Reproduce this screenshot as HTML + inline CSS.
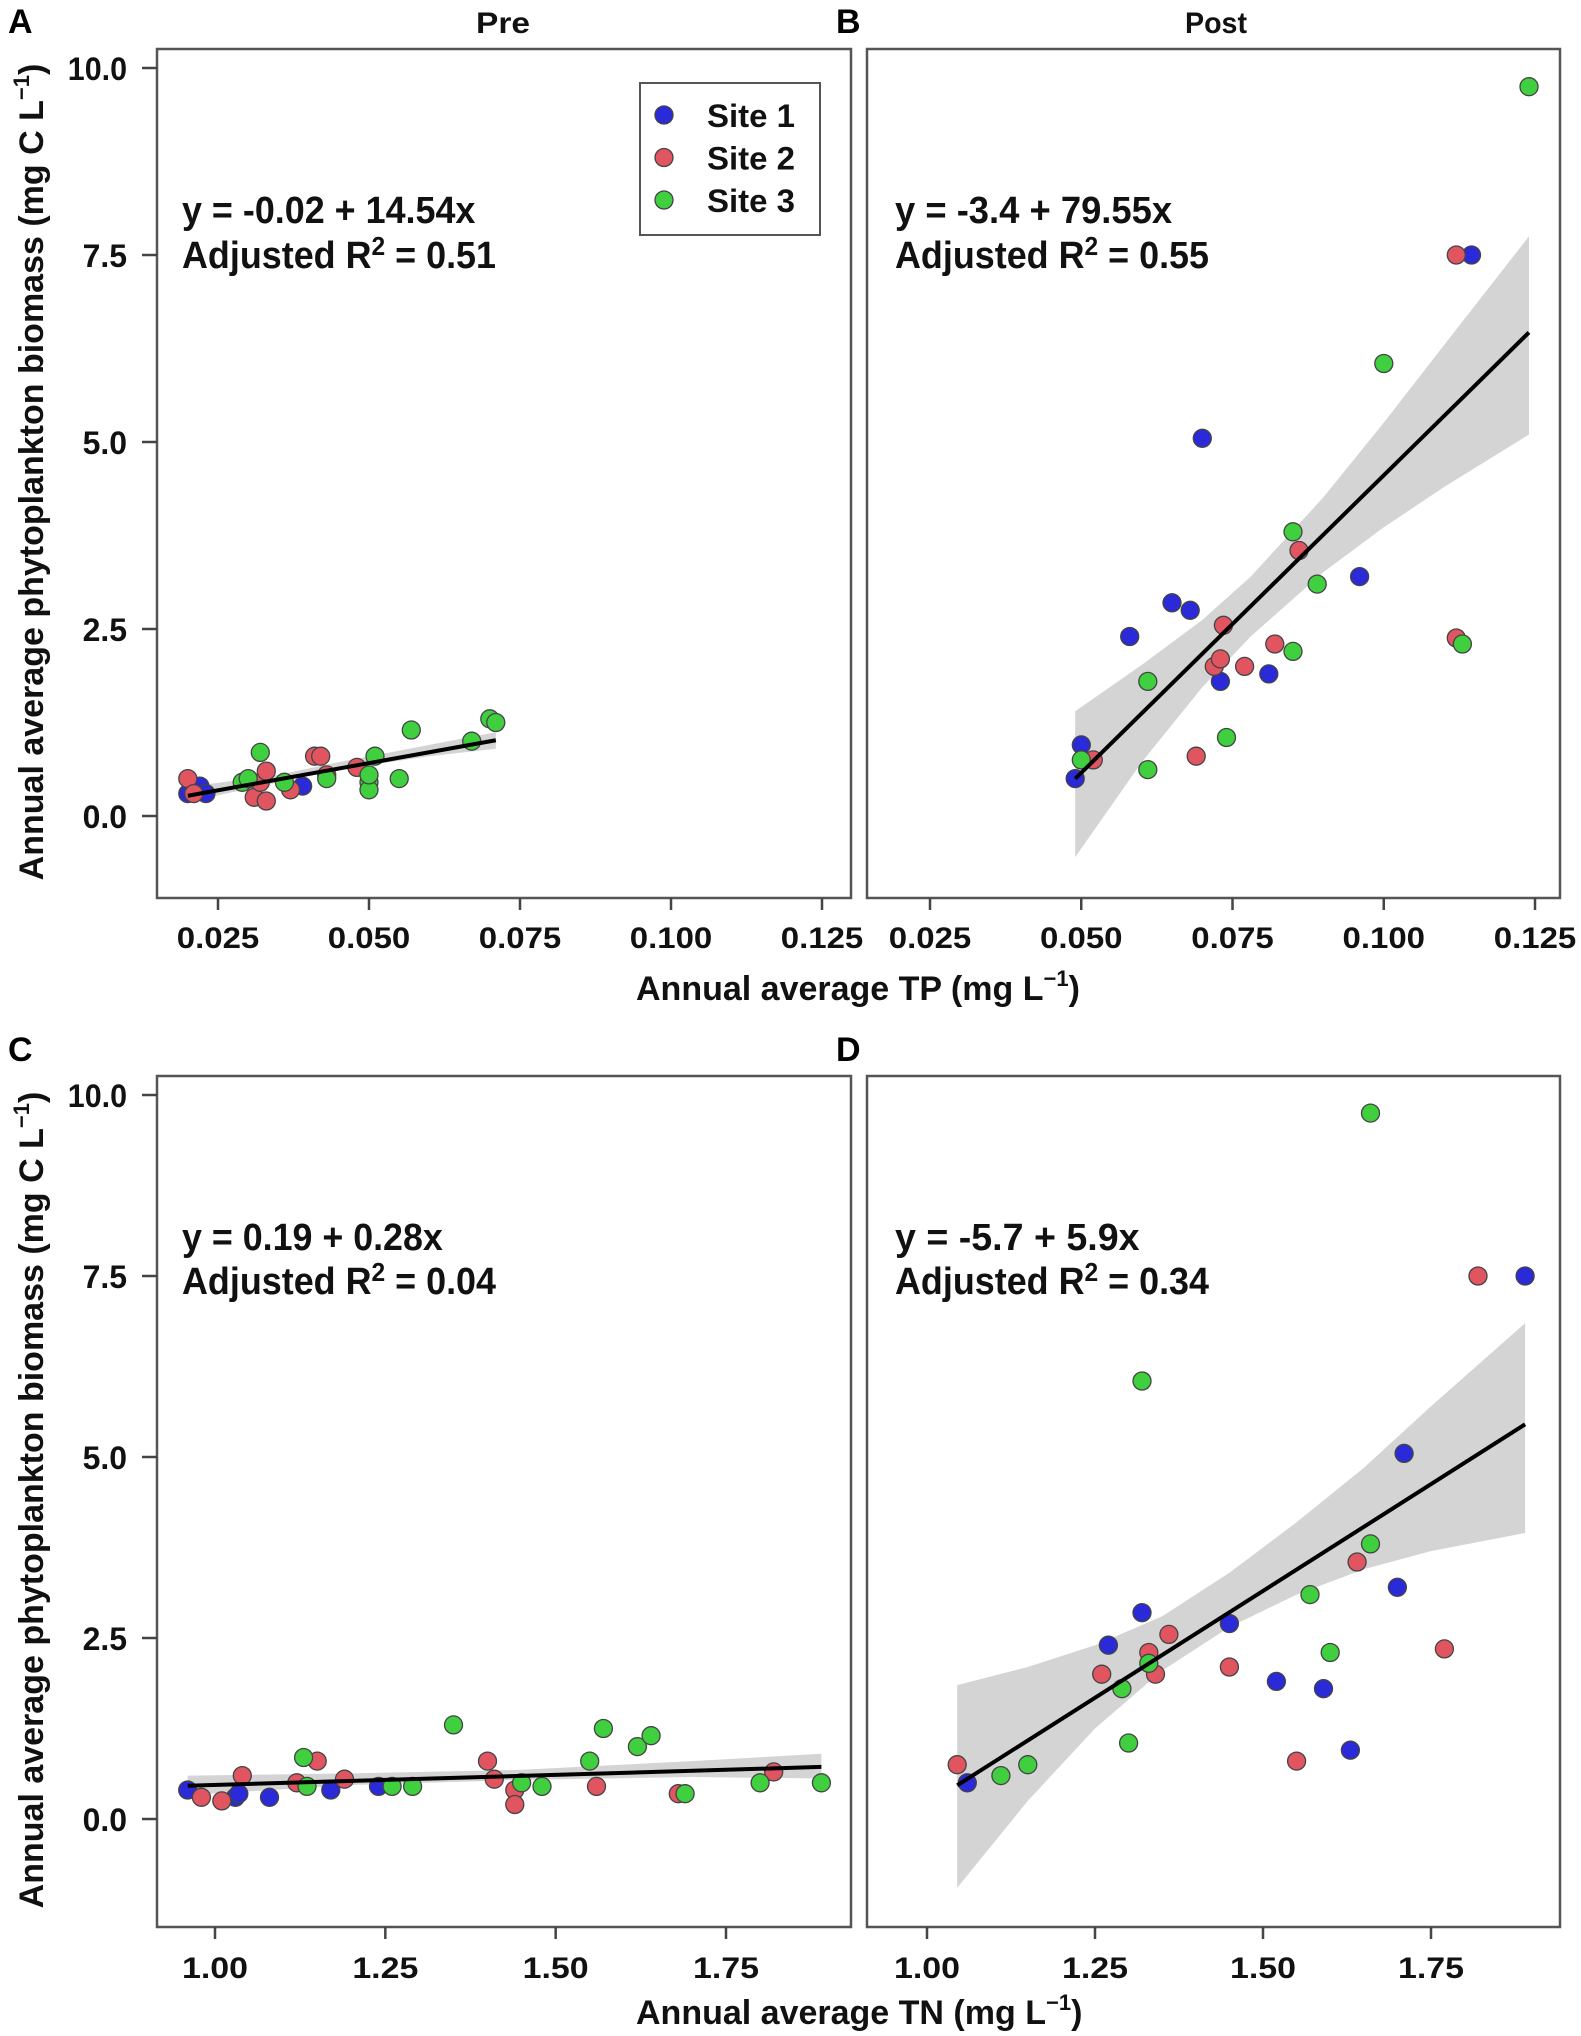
<!DOCTYPE html>
<html><head><meta charset="utf-8"><style>
html,body{margin:0;padding:0;background:#fff;}
svg{display:block;font-family:"Liberation Sans",Arial,sans-serif;font-weight:bold;}
</style></head><body>
<svg id="chart" width="1581" height="2036" viewBox="0 0 1581 2036" xmlns="http://www.w3.org/2000/svg">
<g id="layer"></g>
</svg>
<script>
// ---------- data ----------
const siteNames = ["Site 1","Site 2","Site 3"];
const siteColors = ["#2a2ad8","#e05560","#3fcf3f"];
const yTicks = [0.0, 2.5, 5.0, 7.5, 10.0];
const yTickLabels = ["0.0","2.5","5.0","7.5","10.0"];
const tpTicks = [0.025,0.050,0.075,0.100,0.125];
const tpTickLabels = ["0.025","0.050","0.075","0.100","0.125"];
const tnTicks = [1.00,1.25,1.50,1.75];
const tnTickLabels = ["1.00","1.25","1.50","1.75"];

// Panel A (Pre, TP)
const aSite = [0,0,0,0, 1,1,1,1,1,1,1,1,1,1,1, 2,2,2,2,2,2,2,2,2,2,2,2,2,2];
const aX = [0.020,0.022,0.023,0.039, 0.020,0.021,0.031,0.032,0.033,0.033,0.037,0.041,0.042,0.043,0.048, 0.029,0.030,0.032,0.036,0.043,0.050,0.050,0.050,0.051,0.055,0.057,0.067,0.070,0.071];
const aY = [0.30,0.40,0.30,0.40, 0.50,0.30,0.25,0.45,0.60,0.20,0.35,0.80,0.80,0.55,0.65, 0.45,0.50,0.85,0.45,0.50,0.45,0.35,0.55,0.80,0.50,1.15,1.00,1.30,1.25];
const aBandX = [0.020,0.035,0.045,0.060,0.071];
const aBandLo = [0.19,0.45,0.62,0.80,0.90];
const aBandHi = [0.39,0.55,0.72,0.95,1.12];
const aCoef = [-0.02, 14.54];

// Panel B (Post, TP)
const bSite = [0,0,0,0,0,0,0,0,0,0, 1,1,1,1,1,1,1,1,1,1, 2,2,2,2,2,2,2,2,2,2];
const bX = [0.049,0.050,0.058,0.065,0.068,0.070,0.073,0.081,0.096,0.1145, 0.052,0.069,0.072,0.073,0.0735,0.077,0.082,0.086,0.112,0.112, 0.050,0.061,0.061,0.074,0.085,0.085,0.089,0.100,0.113,0.124];
const bY = [0.50,0.95,2.40,2.85,2.75,5.05,1.80,1.90,3.20,7.50, 0.75,0.80,2.00,2.10,2.55,2.00,2.30,3.55,7.50,2.38, 0.75,0.62,1.80,1.05,3.80,2.20,3.10,6.05,2.30,9.75];
const bBandX = [0.049,0.060,0.070,0.078,0.090,0.100,0.110,0.124];
const bBandLo = [-0.55,0.72,1.72,2.40,3.26,3.86,4.40,5.10];
const bBandHi = [1.40,2.02,2.62,3.20,4.26,5.26,6.30,7.75];
const bCoef = [-3.4, 79.55];

// Panel C (Pre, TN)
const cSite = [0,0,0,0,0,0, 1,1,1,1,1,1,1,1,1,1,1,1,1, 2,2,2,2,2,2,2,2,2,2,2,2,2,2];
const cX = [0.96,1.03,1.035,1.08,1.17,1.24, 0.98,1.01,1.04,1.12,1.15,1.19,1.40,1.41,1.44,1.44,1.56,1.68,1.82, 1.13,1.135,1.26,1.29,1.35,1.45,1.48,1.55,1.57,1.62,1.64,1.69,1.80,1.89];
const cY = [0.40,0.30,0.35,0.30,0.40,0.45, 0.30,0.25,0.60,0.50,0.80,0.55,0.80,0.55,0.40,0.20,0.45,0.35,0.65, 0.85,0.45,0.45,0.45,1.30,0.50,0.45,0.80,1.25,1.00,1.15,0.35,0.50,0.50];
const cBandX = [0.96,1.20,1.45,1.70,1.89];
const cBandLo = [0.33,0.47,0.54,0.58,0.56];
const cBandHi = [0.60,0.63,0.68,0.80,0.90];
const cCoef = [0.19, 0.28];

// Panel D (Post, TN)
const dSite = [0,0,0,0,0,0,0,0,0,0, 1,1,1,1,1,1,1,1,1,1, 2,2,2,2,2,2,2,2,2,2];
const dX = [1.06,1.27,1.32,1.45,1.52,1.59,1.63,1.70,1.71,1.89, 1.045,1.26,1.33,1.34,1.36,1.45,1.55,1.64,1.77,1.82, 1.11,1.15,1.29,1.30,1.32,1.33,1.57,1.60,1.66,1.66];
const dY = [0.50,2.40,2.85,2.70,1.90,1.80,0.95,3.20,5.05,7.50, 0.75,2.00,2.30,2.00,2.55,2.10,0.80,3.55,2.35,7.50, 0.60,0.75,1.80,1.05,6.05,2.15,3.10,2.30,3.80,9.75];
const dBandX = [1.045,1.15,1.25,1.35,1.45,1.55,1.65,1.75,1.89];
const dBandLo = [-0.95,0.25,1.25,2.05,2.65,3.10,3.45,3.70,3.95];
const dBandHi = [1.85,2.10,2.40,2.80,3.40,4.10,4.85,5.70,6.85];
const dCoef = [-5.7, 5.9];

// ---------- drawing ----------
const NS = "http://www.w3.org/2000/svg";
const layer = document.getElementById("layer");
function mk(tag, attrs, parent){
  const e = document.createElementNS(NS, tag);
  for (const k in attrs) e.setAttribute(k, attrs[k]);
  (parent||layer).appendChild(e);
  return e;
}

const panels = [
  {id:"a", box:[157,49,851,898], x0:0.025, px0:218, x1:0.125, px1:822, y0:816, yPer:74.8,
   site:aSite, xs:aX, ys:aY, bx:aBandX, blo:aBandLo, bhi:aBandHi, coef:aCoef,
   ticks:tpTicks, tickLabels:tpTickLabels, tlY:948, eq:["y = -0.02 + 14.54x","0.51"], eqX:182, eqY:[223,268], leftAxis:true},
  {id:"b", box:[867,49,1560,898], x0:0.025, px0:930, x1:0.125, px1:1535, y0:816, yPer:74.8,
   site:bSite, xs:bX, ys:bY, bx:bBandX, blo:bBandLo, bhi:bBandHi, coef:bCoef,
   ticks:tpTicks, tickLabels:tpTickLabels, tlY:948, eq:["y = -3.4 + 79.55x","0.55"], eqX:895, eqY:[223,268], leftAxis:false},
  {id:"c", box:[157,1076,851,1927], x0:1.00, px0:215, x1:1.75, px1:726, y0:1819, yPer:72.4,
   site:cSite, xs:cX, ys:cY, bx:cBandX, blo:cBandLo, bhi:cBandHi, coef:cCoef,
   ticks:tnTicks, tickLabels:tnTickLabels, tlY:1978, eq:["y = 0.19 + 0.28x","0.04"], eqX:182, eqY:[1250,1294], leftAxis:true},
  {id:"d", box:[867,1076,1560,1927], x0:1.00, px0:927, x1:1.75, px1:1431, y0:1819, yPer:72.4,
   site:dSite, xs:dX, ys:dY, bx:dBandX, blo:dBandLo, bhi:dBandHi, coef:dCoef,
   ticks:tnTicks, tickLabels:tnTickLabels, tlY:1978, eq:["y = -5.7 + 5.9x","0.34"], eqX:895, eqY:[1250,1294], leftAxis:false}
];

panels.forEach(p => {
  const sx = v => p.px0 + (v - p.x0) / (p.x1 - p.x0) * (p.px1 - p.px0);
  const sy = v => p.y0 - v * p.yPer;
  const g = mk("g", {});
  
  
  const [l,t,r,b] = p.box;
  // band
  let d = "";
  p.bx.forEach((x,i)=>{ d += (i?"L":"M") + sx(x).toFixed(1) + "," + sy(p.bhi[i]).toFixed(1); });
  for (let i=p.bx.length-1;i>=0;i--) d += "L" + sx(p.bx[i]).toFixed(1) + "," + sy(p.blo[i]).toFixed(1);
  const band = mk("path", {d:d+"Z", fill:"#d4d4d4", stroke:"none"}, g);
  
  
  // points
  p.xs.forEach((x,i)=>{
    const c = mk("circle", {cx:sx(x).toFixed(1), cy:sy(p.ys[i]).toFixed(1), r:9, fill:siteColors[p.site[i]], stroke:"#444", "stroke-width":1.3}, g);
    
    
  });
  // fit line
  const xa = p.bx[0], xb = p.bx[p.bx.length-1];
  const ln = mk("line", {x1:sx(xa), y1:sy(p.coef[0]+p.coef[1]*xa), x2:sx(xb), y2:sy(p.coef[0]+p.coef[1]*xb), stroke:"#000", "stroke-width":4}, g);
  
  
  // box
  const bx = mk("rect", {x:l, y:t, width:r-l, height:b-t, fill:"none", stroke:"#555", "stroke-width":2.5}, g);
  
  
  // x ticks
  p.ticks.forEach((v,i)=>{
    mk("line", {x1:sx(v), y1:b, x2:sx(v), y2:b+12, stroke:"#444", "stroke-width":2.5}, g);
    const tl = mk("text", {x:sx(v), y:p.tlY, "text-anchor":"middle", "font-size":30, fill:"#111", textLength: p.tickLabels[i].length*16.5, lengthAdjust:"spacingAndGlyphs"}, g);
    tl.textContent = p.tickLabels[i];
    
    
  });
  // y ticks
  if (p.leftAxis) {
    yTicks.forEach((v,i)=>{
      mk("line", {x1:l-15, y1:sy(v), x2:l, y2:sy(v), stroke:"#444", "stroke-width":2.5}, g);
      const tl = mk("text", {x:l-30, y:sy(v)+12, "text-anchor":"end", "font-size":32, fill:"#111", textLength: yTickLabels[i].length*14.8, lengthAdjust:"spacingAndGlyphs"}, g);
      tl.textContent = yTickLabels[i];
      
      
    });
  }
  // equation
  const e1 = mk("text", {x:p.eqX, y:p.eqY[0], "font-size":38, fill:"#111", textLength:p.eq[0].length*16.3, lengthAdjust:"spacingAndGlyphs"}, g);
  e1.textContent = p.eq[0];
  
  
  const e2 = mk("text", {x:p.eqX, y:p.eqY[1], "font-size":38, fill:"#111", textLength:314, lengthAdjust:"spacingAndGlyphs"}, g);
  e2.innerHTML = 'Adjusted R<tspan font-size="26" dy="-13">2</tspan><tspan dy="13"> = ' + p.eq[1] + '</tspan>';
  
  
});

// legend
const lg = mk("g", {});


mk("rect", {x:640, y:83, width:180, height:152, fill:"#fff", stroke:"#555", "stroke-width":2}, lg);
siteNames.forEach((n,i)=>{
  const c = mk("circle", {cx:664, cy:115+i*42.5, r:9, fill:siteColors[i], stroke:"#444", "stroke-width":1.3}, lg);
  
  
  const t = mk("text", {x:707, y:127+i*42.5, "font-size":32, fill:"#111", textLength:88, lengthAdjust:"spacingAndGlyphs"}, lg);
  t.textContent = n;
  
  
});
</script>
<svg style="position:absolute;left:0;top:0" width="1581" height="2036" viewBox="0 0 1581 2036" xmlns="http://www.w3.org/2000/svg" font-family="Liberation Sans, Arial, sans-serif" font-weight="bold">
  <text x="8" y="33" font-size="34" fill="#000">A</text>
  <text x="836" y="33" font-size="34" fill="#000">B</text>
  <text x="8" y="1061" font-size="34" fill="#000">C</text>
  <text x="836" y="1061" font-size="34" fill="#000">D</text>
  <text x="503" y="33" text-anchor="middle" font-size="30" fill="#111" textLength="54" lengthAdjust="spacingAndGlyphs">Pre</text>
  <text x="1216" y="33" text-anchor="middle" font-size="30" fill="#111" textLength="62" lengthAdjust="spacingAndGlyphs">Post</text>
  <text x="636" y="1000" font-size="34" fill="#111">Annual average TP (mg L<tspan font-size="22" dy="-14">−1</tspan><tspan dy="14">)</tspan></text>
  <text x="636" y="2024" font-size="34" fill="#111">Annual average TN (mg L<tspan font-size="22" dy="-14">−1</tspan><tspan dy="14">)</tspan></text>
  <text transform="translate(43,472) rotate(-90)" text-anchor="middle" font-size="34" fill="#111">Annual average phytoplankton biomass (mg C L<tspan font-size="22" dy="-14">−1</tspan><tspan dy="14">)</tspan></text>
  <text transform="translate(43,1500) rotate(-90)" text-anchor="middle" font-size="34" fill="#111">Annual average phytoplankton biomass (mg C L<tspan font-size="22" dy="-14">−1</tspan><tspan dy="14">)</tspan></text>
</svg>
</body></html>
